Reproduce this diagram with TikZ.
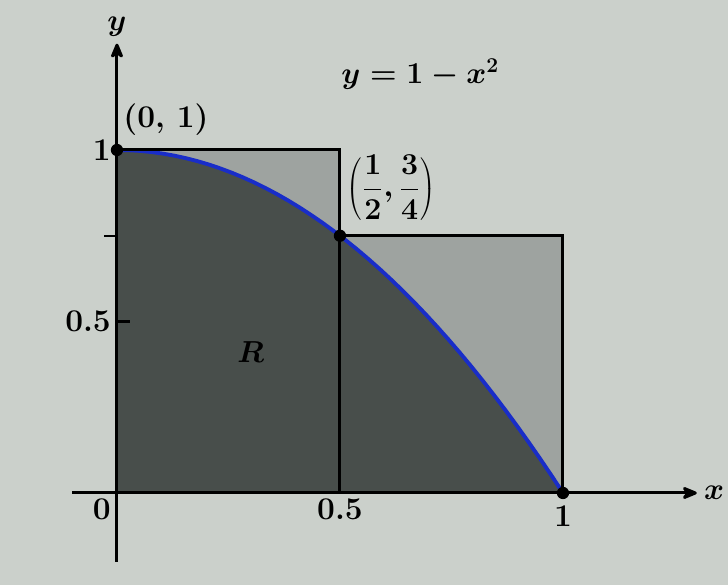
\documentclass[tikz,border=0pt]{standalone}
\usetikzlibrary{arrows.meta,positioning}
\definecolor{paper}{RGB}{203,208,203}
\definecolor{litefill}{RGB}{158,163,160}
\definecolor{darkfill}{RGB}{72,78,75}
\definecolor{curveblue}{RGB}{25,45,200}
\begin{document}
\begin{tikzpicture}[x=8.92cm,y=6.86cm,>={Stealth[round,length=11pt,width=9pt]},
    every node/.style={font=\fontsize{18}{21}\selectfont\bfseries\boldmath},
    dot/.style={circle,fill=black,inner sep=0pt,minimum size=7pt},
    edgeline/.style={line width=1.7pt},
    tick/.style={line width=1.4pt}]
    % paper and margins
    \fill[paper] (-0.2623,-0.2682) rectangle (1.3700,1.4373);
    \useasboundingbox (-0.2623,-0.2682) rectangle (1.3700,1.4373);

    % upper sum rectangles and region R
    \fill[litefill] (0,0) rectangle (0.5,1);
    \fill[litefill] (0.5,0) rectangle (1,0.75);
    \fill[darkfill] (0,0) -- (0,1) -- plot[domain=0:1,samples=40] (\x,{1-\x*\x}) -- cycle;
    \draw[curveblue,line width=2.2pt] plot[domain=0:1,samples=40] (\x,{1-\x*\x});

    \coordinate (xs) at (-0.1,0);
    \coordinate (xe) at (1.3,0);
    \coordinate (ys) at (0,-0.2);
    \coordinate (ye) at (0,1.31);
    \coordinate (top) at (0.5,1);
    \coordinate (mid) at (0.5,0);
    \coordinate (step) at (1,0.75);
    \node[dot] (p0) at (0,1) {};
    \node[dot] (ph) at (0.5,0.75) {};
    \node[dot] (p1) at (1,0) {};

    \draw[edgeline] (p0.center) -- (top) -- (mid);
    \draw[edgeline] (ph.center) -- (step) -- (p1.center);
    \draw[edgeline] (0,0) -- (1,0);

    % axes
    \draw[edgeline,->] (xs) -- (xe) node[right] (xlab) {$x$};
    \draw[edgeline,->] (ys) -- (ye) node[above] (ylab) {$y$};
    \draw[tick] (0,0.5) -- (0.03,0.5);
    \draw[tick] (0,0.75) -- (-0.03,0.75);

    % labels
    \node[left] (t1) at (0,1) {1};
    \node[left] (t05) at (0,0.5) {0.5};
    \node[below left] (t0) at (0,0) {0};
    \node[below] (x05) at (0.5,0) {0.5};
    \node[below=4pt] (x1) at (1,0) {1};
    \node (flab) at (0.68,1.22) {$y=1-x^2$};
    \node (p0lab) at (0.11,1.09) {(0, 1)};
    \node (phlab) at (0.615,0.89) {$\displaystyle\left(\frac12,\frac34\right)$};
    \node (rlab) at (0.3,0.41) {$R$};
\end{tikzpicture}
\end{document}
